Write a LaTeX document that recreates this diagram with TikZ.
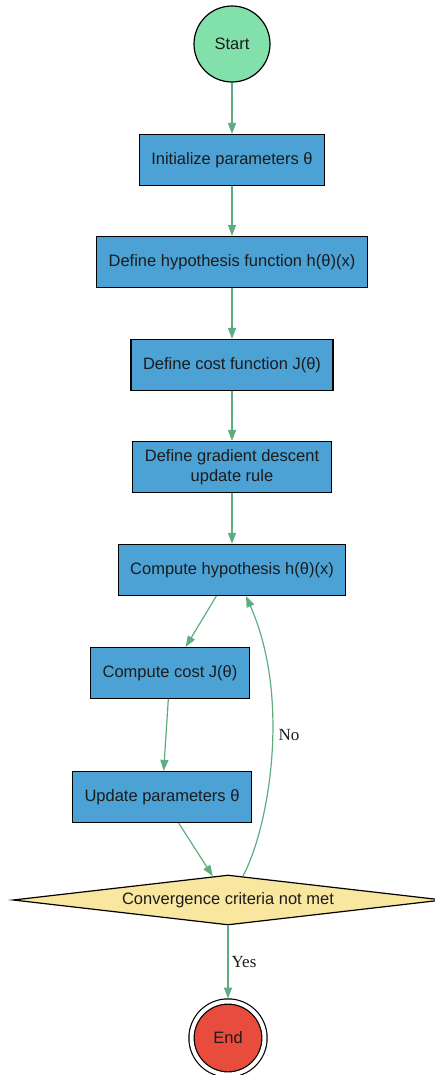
\documentclass[tikz,border=0pt]{standalone}
\usepackage{fontspec}
\setmainfont{Liberation Sans}
\newfontfamily\etiqfont{Liberation Serif}
\usetikzlibrary{shapes.geometric,arrows.meta}
\definecolor{inicio}{HTML}{82E0AA}
\definecolor{paso}{HTML}{4CA1D5}
\definecolor{rombo}{HTML}{F9E79F}
\definecolor{fin}{HTML}{E74C3C}
\definecolor{flechas}{HTML}{5DAD80}
\definecolor{texto}{HTML}{1C1C1C}
\begin{document}
\begin{tikzpicture}[x=1pt, y=-1pt,
    every node/.style={text=texto, font=\fontsize{16.5}{19.5}\selectfont},
    caja/.style={draw, fill=paso, line width=1.2pt, inner xsep=12pt, minimum height=51pt, align=center},
    flecha/.style={draw=flechas, line width=1.2pt, -{Triangle[length=11pt,width=8pt]}},
    etiq/.style={font=\etiqfont\fontsize{17}{20}\selectfont}]
    \useasboundingbox (0,0) rectangle (434,1075);

    % Inicio y pasos
    \node[circle, draw, fill=inicio, line width=1.2pt, minimum size=76pt, inner sep=0pt] (start) at (232,44) {Start};
    \node[caja] (init) at (232,160) {Initialize parameters θ};
    \node[caja] (hyp) at (232,262) {Define hypothesis function h(θ)(x)};
    \node[caja] (cost) at (232,365) {Define cost function J(θ)};
    \node[caja] (rule) at (232,467) {Define gradient descent\\update rule};
    \node[caja] (comph) at (232,570) {Compute hypothesis h(θ)(x)};
    \node[caja] (compc) at (170,673) {Compute cost J(θ)};
    \node[caja] (upd) at (162,797) {Update parameters θ};

    % Decision y fin
    \node[diamond, draw, fill=rombo, line width=1.2pt, inner sep=0pt, aspect=8.6, minimum width=430pt, minimum height=50pt] (conv) at (228,900) {Convergence criteria not met};
    \node[circle, draw, fill=fin, line width=1.2pt, double, double distance=4pt, minimum size=73pt, inner sep=0pt, outer sep=3pt] (end) at (228,1038) {End};

    % Flechas
    \draw[flecha] (start) -- (init);
    \draw[flecha] (init) -- (hyp);
    \draw[flecha] (hyp) -- (cost);
    \draw[flecha] (cost) -- (rule);
    \draw[flecha] (rule) -- (comph);
    \draw[flecha] (comph) -- (compc);
    \draw[flecha] (compc) -- (upd);
    \draw[flecha] (upd) -- (conv);
    \draw[flecha] (conv.58) .. controls (268,830) and (292,700) .. (comph.south -| 246,0);
    \draw[flecha] (conv) -- (end);

    % Etiquetas
    \node[etiq] (no) at (289,735) {No};
    \node[etiq] (yes) at (244,962) {Yes};
\end{tikzpicture}
\end{document}
